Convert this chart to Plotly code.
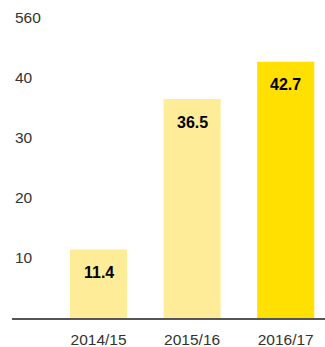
import plotly.graph_objects as go

categories = ["2014/15", "2015/16", "2016/17"]
values = [11.4, 36.5, 42.7]
value_labels = ["11.4", "36.5", "42.7"]
bar_colors = ["#FFEC99", "#FFEC99", "#FFE000"]
tick_vals = [10, 20, 30, 40, 50]
tick_text = ["10", "20", "30", "40", "560"]

fig = go.Figure()
fig.add_trace(go.Bar(
    x=categories, y=values, marker=dict(color=bar_colors, line=dict(width=0)),
    width=0.61, hoverinfo="skip",
))
for c, v, t in zip(categories, values, value_labels):
    fig.add_annotation(x=c, y=v, text="<b>%s</b>" % t, showarrow=False,
                       yanchor="middle", yshift=-23,
                       font=dict(family="Liberation Sans, Arial", size=16, color="#000"))

fig.update_layout(
    width=325, height=347,
    margin=dict(l=12, r=0, t=0, b=29),
    paper_bgcolor="white", plot_bgcolor="white",
    showlegend=False,
    font=dict(family="Liberation Sans, Arial", size=16, color="#333"),
    xaxis=dict(range=[-0.925, 2.42], showgrid=False, zeroline=False,
               showline=True, linecolor="#555", linewidth=1.5,
               ticks="", ticklabelstandoff=7,
               tickfont=dict(size=15.5, color="#333")),
    yaxis=dict(range=[0, 53], showgrid=False, zeroline=False, showline=False,
               tickvals=tick_vals, ticktext=tick_text,
               ticklabelposition="inside", ticks="",
               tickfont=dict(size=15.5, color="#333")),
)
fig.write_html("out.html", config={"displayModeBar": False},
               post_script="document.body.style.margin='0';document.body.style.overflow='hidden';")
